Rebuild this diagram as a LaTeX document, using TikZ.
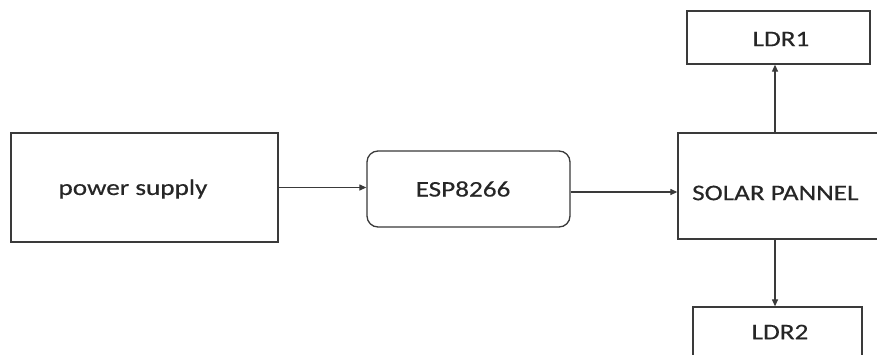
\documentclass[tikz,border=0pt]{standalone}
\usepackage{fontspec}
\setmainfont[FakeStretch=1.22,FakeBold=0.4]{Carlito}
\usetikzlibrary{arrows.meta}
\definecolor{ln}{HTML}{3A3A3A}
\definecolor{tx}{HTML}{262626}
\tikzset{
  box/.style={draw=ln, line width=1.3pt, fill=white, inner sep=0pt},
  lbl/.style={text=tx, font=\fontsize{22.3}{25}\selectfont, inner sep=0pt},
  arr/.style={draw=ln, line width=1.2pt, -{Triangle[length=7pt,width=6pt]}}
}
\begin{document}
\begin{tikzpicture}[x=1pt,y=-1pt]
\useasboundingbox (0,0) rectangle (877,354);
\clip (0,0) rectangle (877,354);
\fill[white] (0,0) rectangle (877,354);
\node[box, minimum width=267pt, minimum height=109pt] (ps) at (144.5,187.5) {};
\node[lbl] (pst) at (133,189) {power supply};
\node[box, rounded corners=11pt, minimum width=203pt, minimum height=76pt] (esp) at (468.5,189) {};
\node[lbl] (espt) at (463,189) {ESP8266};
\node[box, minimum width=210pt, minimum height=106pt] (sol) at (783,186) {};
\node[lbl, anchor=west] (solt) at (692,193) {SOLAR PANNEL};
\node[box, minimum width=183pt, minimum height=53pt] (l1) at (778.5,37.5) {};
\node[lbl] (l1t) at (781,39) {LDR1};
\node[box, minimum width=169pt, minimum height=53pt] (l2) at (777.5,333.5) {};
\node[lbl] (l2t) at (780,332) {LDR2};
\draw[arr] (ps.east) -- (ps.east -| esp.west);
\draw[arr] (esp.east |- 0,192) -- (sol.west |- 0,192);
\draw[arr] (sol.north -| 775,0) -- (l1.south -| 775,0);
\draw[arr] (sol.south -| 775,0) -- (l2.north -| 775,0);
\end{tikzpicture}
\end{document}
